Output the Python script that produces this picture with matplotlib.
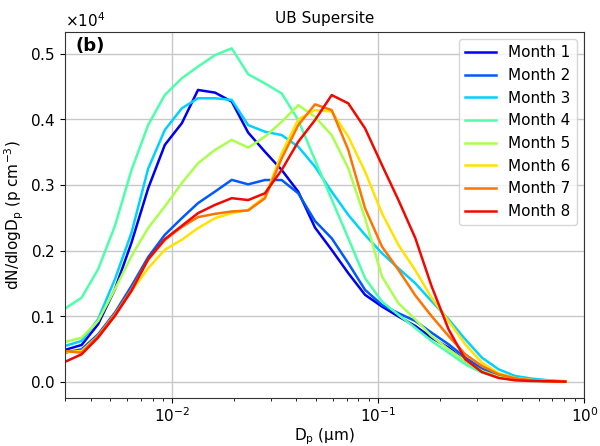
import matplotlib
matplotlib.use('Agg')
import matplotlib.pyplot as plt
import numpy as np

# particle diameters (um), log-spaced bins
dp = [0.00300, 0.00362, 0.00435, 0.00525, 0.00632, 0.00762, 0.00918, 0.0111,
      0.0133, 0.0161, 0.0194, 0.0233, 0.0281, 0.0339, 0.0408, 0.0492,
      0.0593, 0.0714, 0.0861, 0.104, 0.125, 0.151, 0.181, 0.219,
      0.264, 0.318, 0.383, 0.461, 0.556, 0.670, 0.807]

month1 = [483, 559, 874, 1407, 2118, 2950, 3612, 3942, 4450, 4409, 4272, 3800,
          3508, 3229, 2898, 2350, 2009, 1654, 1324, 1146, 994, 848, 670, 518,
          315, 178, 86, 41, 15, 5, 0]
month2 = [442, 493, 721, 1052, 1458, 1900, 2240, 2494, 2723, 2900, 3078, 3010,
          3076, 3076, 2873, 2450, 2187, 1806, 1400, 1171, 1044, 925, 747, 569,
          366, 198, 97, 46, 20, 10, 0]
month3 = [543, 620, 950, 1560, 2270, 3250, 3840, 4170, 4323, 4323, 4297, 3914,
          3813, 3762, 3584, 3279, 2898, 2543, 2238, 1959, 1730, 1500, 1229, 950,
          645, 366, 188, 86, 46, 20, 5]
month4 = [1112, 1280, 1712, 2372, 3225, 3917, 4374, 4628, 4806, 4983, 5085, 4690,
          4549, 4397, 3990, 3381, 2780, 2187, 1578, 1222, 1019, 820, 620, 442,
          264, 137, 61, 25, 10, 5, 0]
month5 = [605, 670, 925, 1407, 1915, 2345, 2672, 3028, 3332, 3536, 3688, 3570,
          3737, 3965, 4219, 4041, 3760, 3254, 2492, 1603, 1197, 950, 696, 493,
          315, 163, 71, 30, 10, 5, 0]
month6 = [452, 467, 696, 1026, 1382, 1730, 2012, 2164, 2342, 2494, 2570, 2620,
          2822, 3483, 4000, 4143, 4120, 3737, 3203, 2568, 2086, 1700, 1280, 925,
          569, 290, 127, 56, 25, 10, 0]
month7 = [467, 442, 696, 1026, 1407, 1860, 2160, 2360, 2510, 2560, 2596, 2611,
          2797, 3406, 3914, 4230, 4143, 3533, 2644, 2060, 1705, 1315, 1000, 696,
          417, 239, 112, 51, 20, 5, 0]
month8 = [300, 417, 671, 1001, 1382, 1869, 2174, 2377, 2570, 2697, 2799, 2770,
          2873, 3229, 3660, 3990, 4372, 4245, 3864, 3305, 2771, 2190, 1458, 798,
          340, 147, 56, 20, 10, 5, 0]

series = [month1, month2, month3, month4, month5, month6, month7, month8]
labels = [f'Month {i}' for i in range(1, 9)]
colors = plt.cm.jet(np.linspace(0.1, 0.9, len(series)))

plt.rcParams['font.size'] = 11

fig = plt.figure(figsize=(6, 4.46), dpi=100)
ax = fig.add_axes([0.108, 0.107, 0.866, 0.822])

for vals, lab, c in zip(series, labels, colors):
    ax.plot(dp, vals, color=c, lw=1.8, label=lab)

ax.set_xscale('log')
ax.set_xlim(0.003, 1)
ax.ticklabel_format(axis='y', style='sci', scilimits=(4, 4), useMathText=True)
ax.tick_params(axis='x', which='both', pad=2)
ax.grid(True, which='major', color='#c8c8c8', lw=1)
ax.set_axisbelow(True)

ax.set_xlabel(r'D$_\mathregular{p}$ ($\mathregular{\mu}$m)', labelpad=1)
ax.set_ylabel(r'dN/dlogD$_\mathregular{p}$ (p cm$^{-3}$)', labelpad=3)
ax.set_title('UB Supersite', fontsize=11)
ax.text(0.02, 0.985, '(b)', transform=ax.transAxes, fontsize=13,
        fontweight='bold', va='top', ha='left')

ax.legend(loc='upper right', fontsize=11, handlelength=2.0)

for sp in ax.spines.values():
    sp.set_color('#333333')

fig.savefig('out.png', dpi=100)
